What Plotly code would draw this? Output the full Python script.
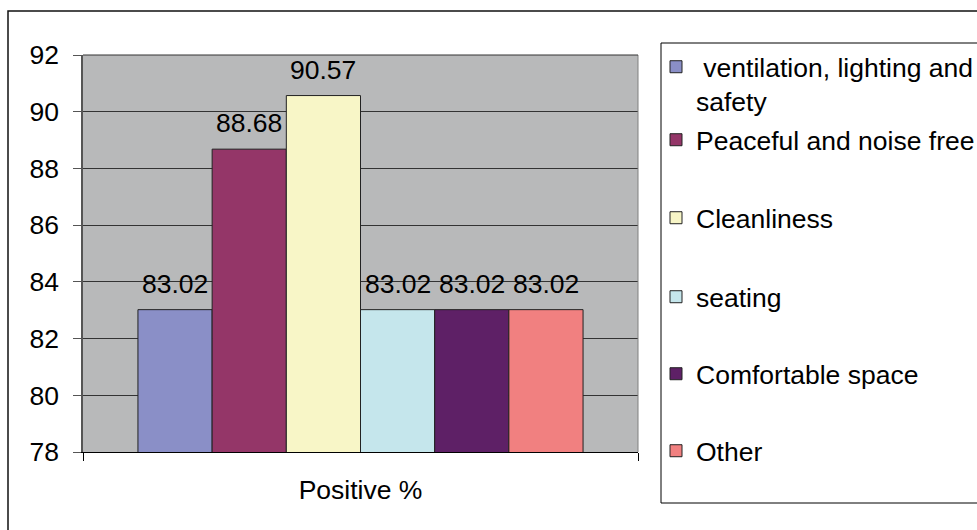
import plotly.graph_objects as go

# Survey results: share of positive responses per library feature
categories = ["Positive %"]
series_names = [
    "\u00a0ventilation, lighting and<br>safety",
    "Peaceful and noise free",
    "Cleanliness",
    "seating",
    "Comfortable space",
    "Other",
]
series_values = [83.02, 88.68, 90.57, 83.02, 83.02, 83.02]
series_colors = ["#8A8FC7", "#943668", "#F8F6C7", "#C5E6EC", "#5E2066", "#F18080"]
y_ticks = [78, 80, 82, 84, 86, 88, 90, 92]

W, H = 977, 530
M_L, M_R, M_T, M_B = 83, 339, 55, 78
PLOT_W = W - M_L - M_R
PLOT_H = H - M_T - M_B
BARGAP = 0.198
FONT = dict(family="Arial, Liberation Sans, sans-serif", size=26.5, color="#000000")


def px_x(p):
    return (p - M_L) / PLOT_W


def px_y(q):
    return (H - M_B - q) / PLOT_H


fig = go.Figure()
n = len(series_values)
legend_centers = [84, 140, 218, 297, 374, 451]
for i, (name, val, col) in enumerate(zip(series_names, series_values, series_colors)):
    lg = "legend" if i == 0 else f"legend{i + 1}"
    fig.add_trace(go.Bar(
        x=categories, y=[val], name=name,
        marker=dict(color=col, line=dict(color="#222222", width=1)),
        legend=lg, hoverinfo="skip",
    ))

# value labels above each bar
bar_w = (1 - BARGAP) / n
for i, val in enumerate(series_values):
    fig.add_annotation(
        x=(i - (n - 1) / 2) * bar_w, y=val, xref="x", yref="y",
        text=f"{val:.2f}", showarrow=False, yanchor="bottom", yshift=9,
        font=FONT,
    )

# one legend block per series, stacked inside a shared frame
legends = {}
for i, yc in enumerate(legend_centers):
    key = "legend" if i == 0 else f"legend{i + 1}"
    legends[key] = dict(
        x=px_x(656), y=px_y(yc), xref="paper", yref="paper",
        xanchor="left", yanchor="middle", bgcolor="rgba(0,0,0,0)",
        borderwidth=0, font=FONT, valign="top", itemclick=False,
    )

fig.update_layout(
    width=W, height=H,
    margin=dict(l=M_L, r=M_R, t=M_T, b=M_B, autoexpand=False),
    paper_bgcolor="white", plot_bgcolor="#B8B9BA",
    barmode="group", bargap=BARGAP, bargroupgap=0,
    font=FONT, showlegend=True,
    **legends,
    xaxis=dict(
        type="category", showline=True, linecolor="#000000", linewidth=1,
        ticks="outside", tickson="boundaries", ticklen=8, tickcolor="#000000",
        tickfont=FONT, ticklabelstandoff=14, showgrid=False, fixedrange=True,
    ),
    yaxis=dict(
        range=[78, 92], tickvals=y_ticks, showline=True, linecolor="#555555",
        linewidth=1.5, ticks="outside", ticklen=8, tickcolor="#555555",
        tickfont=FONT, ticklabelstandoff=9, showgrid=True,
        gridcolor="#333333", gridwidth=1, zeroline=False, fixedrange=True,
    ),
    shapes=[
        # right edge of the plot area
        dict(type="line", xref="paper", yref="paper", x0=1, x1=1, y0=0, y1=1,
             line=dict(color="#808080", width=1)),
        # top edge of the plot area
        dict(type="line", xref="paper", yref="paper", x0=0, x1=1, y0=1, y1=1,
             line=dict(color="#333333", width=1)),
        # legend frame
        dict(type="rect", xref="paper", yref="paper",
             x0=px_x(661), x1=px_x(1000), y0=px_y(503), y1=px_y(43),
             line=dict(color="#000000", width=1)),
        # chart frame
        dict(type="rect", xref="paper", yref="paper",
             x0=px_x(8), x1=px_x(1000), y0=px_y(560), y1=px_y(11),
             line=dict(color="#111111", width=1.5)),
    ],
)

fig.write_html("out.html", config={"displayModeBar": False})
